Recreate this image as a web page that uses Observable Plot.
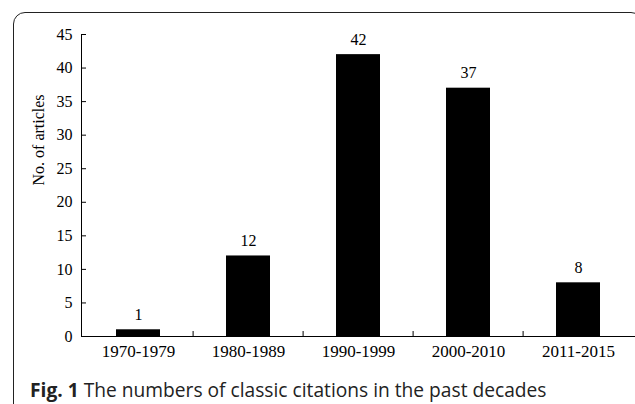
<!DOCTYPE html>
<html>
<head>
<meta charset="utf-8">
<script src="https://cdn.jsdelivr.net/npm/d3@7"></script>
<script src="https://cdn.jsdelivr.net/npm/@observablehq/plot@0.6"></script>
<style>
  html, body { margin: 0; padding: 0; background: #fff; }
  #wrap { position: relative; width: 635px; height: 404px; overflow: hidden; }
  #frame { position: absolute; left: 13px; top: 12px; width: 630px; height: 600px;
           border: 1.5px solid #222; border-radius: 12px; box-sizing: border-box; }
  #chart { position: absolute; left: 0; top: 0; }
  #caption { position: absolute; left: 30px; top: 376px; font-family: "Open Sans", sans-serif;
             font-size: 19.2px; color: #222; white-space: nowrap; }
  #caption b { font-weight: 700; }
</style>
</head>
<body>
<div id="wrap">
  <div id="frame"></div>
  <div id="chart"></div>
  <div id="caption"><b>Fig. 1</b> The numbers of classic citations in the past decades</div>
</div>
<script>
const categories = ["1970-1979", "1980-1989", "1990-1999", "2000-2010", "2011-2015"];
const counts = [1, 12, 42, 37, 8];
const yTicks = [0, 5, 10, 15, 20, 25, 30, 35, 40, 45];

const data = categories.map((c, i) => ({decade: c, n: counts[i]}));

const W = 635, H = 370, mL = 81, mR = 0, mT = 34, mB = 34;
const plotW = W - mL - mR, plotH = H - mT - mB;
const step = plotW / categories.length;

const chart = Plot.plot({
  width: W, height: H,
  marginLeft: mL, marginRight: mR, marginTop: mT, marginBottom: mB,
  style: {fontFamily: "'Liberation Serif', serif", color: "#000", background: "transparent"},
  x: {domain: categories, paddingInner: 0.6, paddingOuter: 0.3, label: null},
  y: {domain: [0, 45], ticks: yTicks, label: null},
  marks: [
    Plot.barY(data, {x: "decade", y: "n", fill: "#000"}),
    Plot.text(data, {x: "decade", y: "n", text: d => String(d.n), lineAnchor: "bottom", dy: -10,
      fontSize: 16, fontFamily: "'Liberation Serif', serif", fill: "#000"}),
    Plot.axisY({ticks: yTicks, tickSize: 0, tickPadding: 9, fontSize: 16, label: null}),
    Plot.tickY(yTicks, {y: d => d, insetRight: plotW - 5, stroke: "#000"}),
    Plot.axisX({tickSize: 0, tickPadding: 8, fontSize: 17, label: null}),
    Plot.ruleX(categories.slice(1), {x: d => d, dx: -step / 2, insetTop: plotH - 5, stroke: "#000"}),
    Plot.frame({anchor: "left", stroke: "#000"}),
    Plot.frame({anchor: "bottom", stroke: "#000"}),
    Plot.text(["No. of articles"], {frameAnchor: "left", dx: -43, rotate: -90, text: d => d,
      fontSize: 16, fill: "#000", fontFamily: "'Liberation Serif', serif"})
  ]
});
document.getElementById("chart").appendChild(chart);
</script>
</body>
</html>
